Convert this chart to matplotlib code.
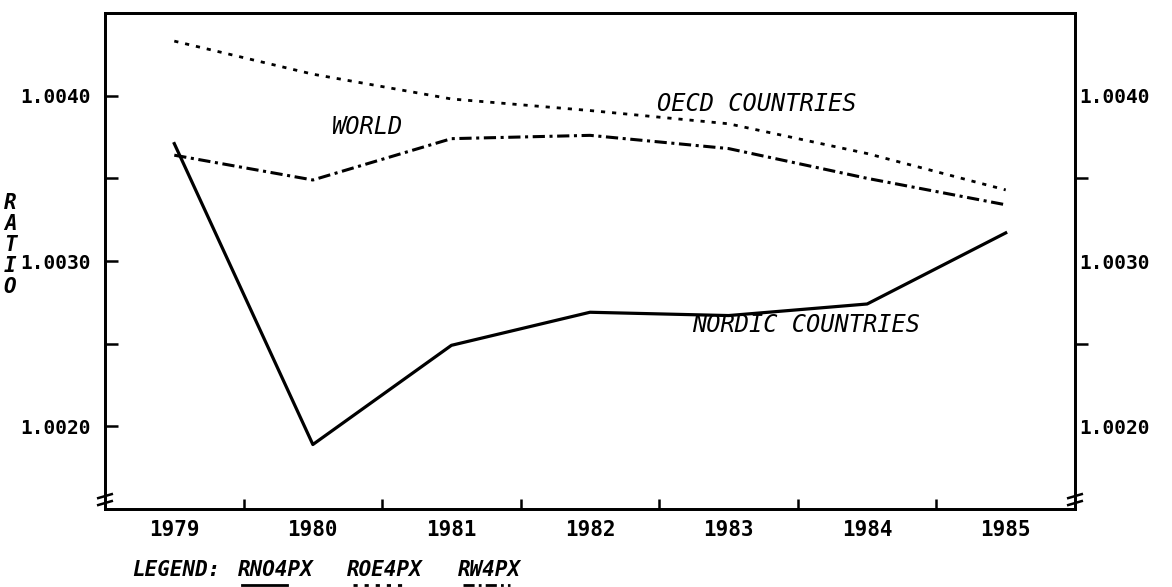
import matplotlib
matplotlib.use("Agg")
import matplotlib.pyplot as plt
from matplotlib.lines import Line2D

# values
years = [1979, 1980, 1981, 1982, 1983, 1984, 1985]
nordic = [1.00371, 1.00189, 1.00249, 1.00269, 1.00267, 1.00274, 1.00317]
world = [1.00364, 1.00349, 1.00374, 1.00376, 1.00368, 1.00350, 1.00334]
oecd = [1.00433, 1.00413, 1.00398, 1.00391, 1.00383, 1.00365, 1.00343]
ytick_vals = [1.0020, 1.0030, 1.0040]
ytick_minor = [1.0025, 1.0035]
ytick_labels = ["1.0020", "1.0030", "1.0040"]
legend_codes = ["RNO4PX", "ROE4PX", "RW4PX"]

MONO = "DejaVu Sans Mono"
DOTTED = (0, (1.5, 2.5))
DASHDOT = (0, (4, 1.5, 1, 1.5))

fig = plt.figure(figsize=(11.72, 5.87), dpi=100)
W, H = 1172, 587
ax = fig.add_axes([105 / W, 1 - 509 / H, 970 / W, 496 / H])

ax.plot(years, nordic, color="black", lw=2.3, ls="-")
ax.plot(years, world, color="black", lw=2.2, ls=DASHDOT)
ax.plot(years, oecd, color="black", lw=2.0, ls=DOTTED)

ax.set_xlim(1978.5, 1985.5)
ax.set_ylim(1.0015, 1.0045)

for s in ax.spines.values():
    s.set_linewidth(2)

# x axis: labels at years, small ticks between them
ax.set_xticks(years)
ax.set_xticklabels([str(y) for y in years], fontfamily=MONO,
                   fontweight="bold", fontsize=15)
ax.set_xticks([y + 0.5 for y in years[:-1]], minor=True)
ax.tick_params(axis="x", which="major", length=0, pad=8)
ax.tick_params(axis="x", which="minor", direction="in", length=7,
               width=1.8, top=False, bottom=True)

# left y axis: ticks point inward
ax.set_yticks(ytick_vals)
ax.set_yticks(ytick_minor, minor=True)
ax.set_yticklabels(ytick_labels, fontfamily=MONO, fontweight="bold",
                   fontsize=14)

# right y axis: minor ticks point outward, labels against the spine
ax2 = ax.twinx()
ax2.set_ylim(ax.get_ylim())
ax2.set_yticks(ytick_vals)
ax2.set_yticks(ytick_minor, minor=True)
ax2.set_yticklabels(ytick_labels, fontfamily=MONO, fontweight="bold",
                    fontsize=14)
ax2.tick_params(axis="y", which="major", length=0, pad=3,
                left=False, right=True)
ax2.tick_params(axis="y", which="minor", direction="out", length=9,
                width=1.8, left=False, right=True)
for s in ax2.spines.values():
    s.set_linewidth(2)

ax.tick_params(axis="y", which="both", direction="in", length=9,
               width=1.8, pad=10, left=True, right=False)

# axis break marks at the bottom corners
for xb in [0.0, 1.0]:
    for yb in [0.012, 0.026]:
        ax.plot([xb - 0.007, xb + 0.007], [yb - 0.004, yb + 0.004],
                transform=ax.transAxes, color="black", lw=1.8,
                clip_on=False)

# line labels
lab = dict(fontfamily=MONO, style="italic", fontsize=17, color="black",
           va="center", ha="left")
ax.text(1980.13, 1.00381, "WORLD", **lab)
ax.text(1982.48, 1.00395, "OECD COUNTRIES", **lab)
ax.text(1982.74, 1.00261, "NORDIC COUNTRIES", **lab)

# vertical axis title, one letter per row
for i, ch in enumerate("RATIO"):
    fig.text(10 / W, 1 - (203 + 21 * i) / H, ch, fontfamily=MONO,
             fontweight="bold", style="italic", fontsize=15,
             ha="center", va="center")

# legend row at the bottom
leg = dict(fontfamily=MONO, fontweight="bold", style="italic",
           fontsize=15, ha="left", va="center")
fig.text(132 / W, 1 - 570 / H, "LEGEND:", **leg)
for code, x0 in zip(legend_codes, [238, 347, 458]):
    fig.text(x0 / W, 1 - 570 / H, code, **leg)

samples = [(242, 287, "-"), (353, 403, DOTTED), (463, 510, DASHDOT)]
for x0, x1, style in samples:
    fig.add_artist(Line2D([x0 / W, x1 / W], [1 - 585 / H, 1 - 585 / H],
                          color="black", lw=2, ls=style))

fig.savefig("out.png", dpi=100)
